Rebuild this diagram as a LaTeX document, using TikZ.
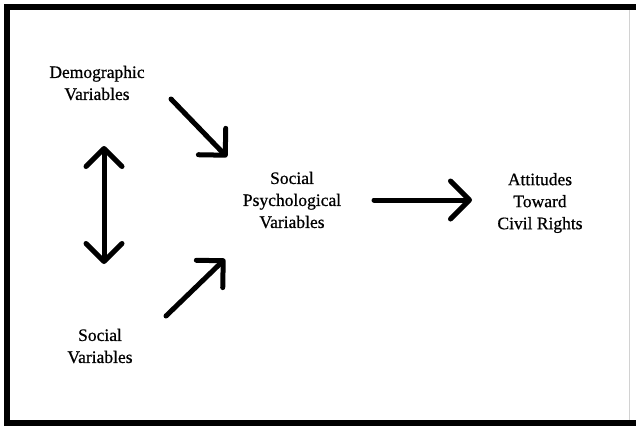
\documentclass[tikz,border=0pt]{standalone}
\usepackage{fontspec}
\setmainfont{Liberation Serif}
\newfontfamily\lblfont{Liberation Serif}[FakeBold=0.7]
\usetikzlibrary{arrows.meta}
\begin{document}
\begin{tikzpicture}[x=1pt,y=-1pt,
  lbl/.style={align=center,font=\lblfont\fontsize{17.5}{22}\selectfont,inner sep=0pt},
  arr/.style={line width=5pt,line cap=round,-{Straight Barb[length=19pt,width=38pt,round]}},
  darr/.style={line width=5pt,line cap=round,{Straight Barb[length=18pt,width=36pt,round]}-{Straight Barb[length=18pt,width=36pt,round]}}]
\useasboundingbox (0,0) rectangle (636,426);
\fill[white] (0,0) rectangle (636,426);
\draw[gray!35,line width=1pt] (629,7) -- (629,423);
\draw[line width=6pt] (640,7) -- (7,7) -- (7,423) -- (640,423);
\node[lbl] (demo) at (97,83) {Demographic\\Variables};
\node[lbl] (soc) at (100,346) {Social\\Variables};
\node[lbl] (psy) at (292,200) {Social\\Psychological\\Variables};
\node[lbl] (att) at (540,203) {Attitudes\\Toward\\Civil Rights};
\coordinate (a1s) at (171,99);
\coordinate (a1e) at (227,157);
\coordinate (a2s) at (166,316);
\coordinate (a2e) at (225,259);
\coordinate (d1) at (104,146);
\coordinate (d2) at (104,264);
\coordinate (hs) at (374,200);
\coordinate (he) at (472,200);
\draw[arr] (a1s) -- (a1e);
\draw[arr] (a2s) -- (a2e);
\draw[darr] (d1) -- (d2);
\draw[arr] (hs) -- (he);
\end{tikzpicture}
\end{document}
